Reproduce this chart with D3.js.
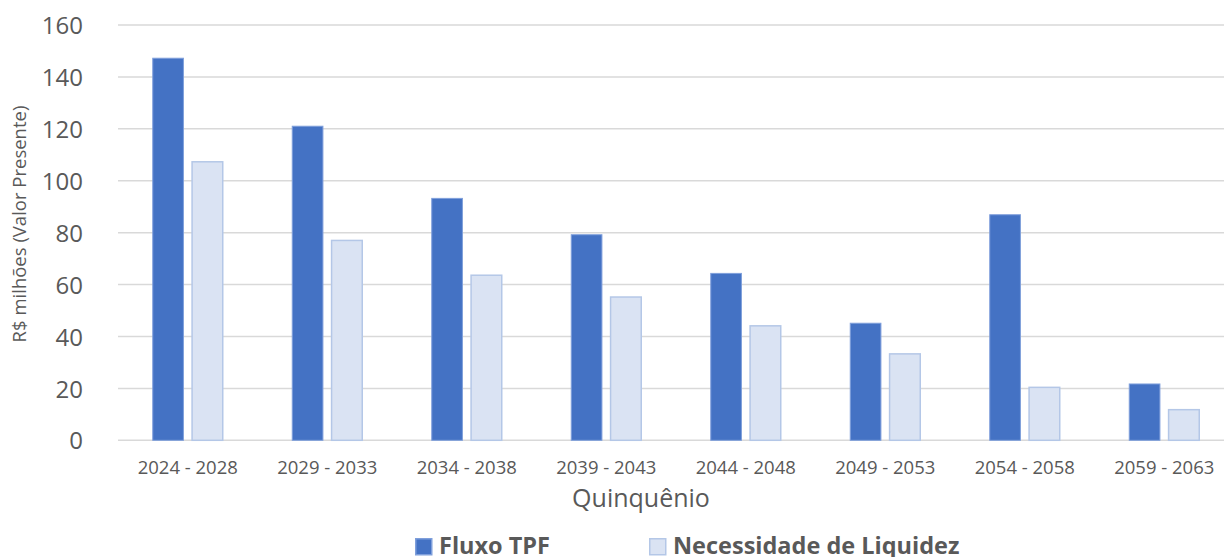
<!DOCTYPE html>
<html>
<head>
<meta charset="utf-8">
<script src="https://cdn.jsdelivr.net/npm/d3@7"></script>
<style>
  body { margin: 0; background: #fff; }
  svg { display: block; font-family: "Open Sans", sans-serif; }
</style>
</head>
<body>
<svg id="chart" width="1224" height="557"></svg>
<script>
// data
var categories = ["2024 - 2028", "2029 - 2033", "2034 - 2038", "2039 - 2043",
                  "2044 - 2048", "2049 - 2053", "2054 - 2058", "2059 - 2063"];
var seriesNames = ["Fluxo TPF", "Necessidade de Liquidez"];
var fluxoTPF = [147.2, 121.0, 93.2, 79.2, 64.3, 45.1, 86.9, 21.7];
var necessidade = [107.3, 77.0, 63.6, 55.2, 44.1, 33.3, 20.4, 11.8];
var yTicks = [0, 20, 40, 60, 80, 100, 120, 140, 160];

var colors = { "Fluxo TPF": "#4472c4", "Necessidade de Liquidez": "#dae3f3" };
var strokes = { "Fluxo TPF": "#7f9fdb", "Necessidade de Liquidez": "#b4c7e7" };

var svg = d3.select("#chart"),
    plotLeft = 118, plotRight = 1234, plotTop = 25, plotBottom = 440.3,
    textColor = "#595959", gridColor = "#d9d9d9";

var x0 = d3.scaleBand().domain(categories).range([plotLeft, plotRight]).padding(0);
var x1 = d3.scaleBand().domain(seriesNames).range([-35, 35]).paddingInner(0.22);
var y = d3.scaleLinear().domain([0, 160]).range([plotBottom, plotTop]);

var rows = categories.map(function(c, i) {
  return { cat: c, values: [
    { name: seriesNames[0], v: fluxoTPF[i] },
    { name: seriesNames[1], v: necessidade[i] }
  ]};
});

// grid lines
svg.append("g")
  .selectAll("line")
  .data(yTicks)
  .enter().append("line")
  .attr("x1", plotLeft).attr("x2", 1224)
  .attr("y1", function(d) { return y(d); })
  .attr("y2", function(d) { return y(d); })
  .attr("stroke", gridColor)
  .attr("stroke-width", 1.5);

// y axis labels
var yAxis = svg.append("g")
  .attr("transform", "translate(" + (plotLeft - 35) + ",0)")
  .call(d3.axisLeft(y).tickValues(yTicks).tickSize(0).tickPadding(0));
yAxis.select(".domain").remove();
yAxis.selectAll("text")
  .attr("fill", textColor)
  .attr("font-size", "24px")
  .attr("font-family", "Open Sans")
  .attr("dy", "0.36em");

// bars
var groups = svg.append("g")
  .selectAll("g")
  .data(rows)
  .enter().append("g")
  .attr("transform", function(d) { return "translate(" + (x0(d.cat) + x0.bandwidth() / 2) + ",0)"; });

groups.selectAll("rect")
  .data(function(d) { return d.values; })
  .enter().append("rect")
  .attr("x", function(d) { return x1(d.name); })
  .attr("width", x1.bandwidth())
  .attr("y", function(d) { return y(d.v); })
  .attr("height", function(d) { return y(0) - y(d.v); })
  .attr("fill", function(d) { return colors[d.name]; })
  .attr("stroke", function(d) { return strokes[d.name]; })
  .attr("stroke-width", function(d) { return d.name === seriesNames[1] ? 1.5 : 1; });

// x axis
var xAxis = svg.append("g")
  .attr("transform", "translate(0," + plotBottom + ")")
  .call(d3.axisBottom(x0).tickSize(0).tickPadding(0));
xAxis.select(".domain").remove();
xAxis.selectAll("text")
  .attr("fill", textColor)
  .attr("font-size", "18.5px")
  .attr("font-family", "Open Sans")
  .attr("dy", "34px");

// axis titles
svg.append("text")
  .attr("x", 641).attr("y", 507)
  .attr("text-anchor", "middle")
  .attr("fill", textColor)
  .attr("font-size", "25px")
  .text("Quinquênio");

svg.append("text")
  .attr("transform", "translate(26,224) rotate(-90)")
  .attr("text-anchor", "middle")
  .attr("fill", textColor)
  .attr("font-size", "18.5px")
  .text("R$ milhões (Valor Presente)");

// legend
var legendX = [415, 649];
var legend = svg.append("g")
  .selectAll("g")
  .data(seriesNames)
  .enter().append("g")
  .attr("transform", function(d, i) { return "translate(" + legendX[i] + ",538)"; });

legend.append("rect")
  .attr("x", 0.75).attr("y", 0.75)
  .attr("width", 16).attr("height", 16)
  .attr("fill", function(d) { return colors[d]; })
  .attr("stroke", function(d) { return strokes[d]; })
  .attr("stroke-width", 1.5);

legend.append("text")
  .attr("x", 24).attr("y", 16)
  .attr("fill", textColor)
  .attr("font-size", "23.5px")
  .attr("font-weight", "bold")
  .text(function(d) { return d; });
</script>
</body>
</html>
